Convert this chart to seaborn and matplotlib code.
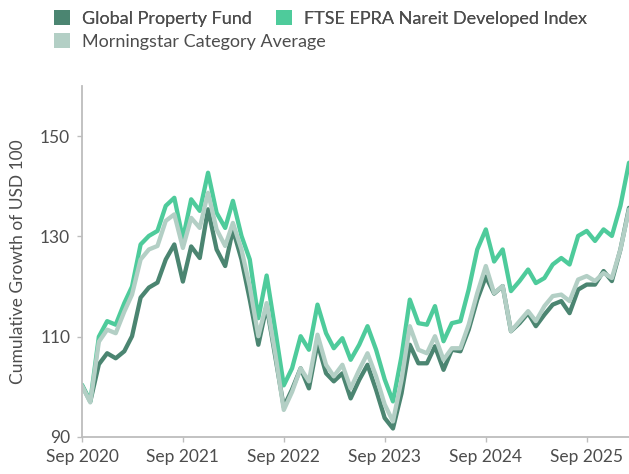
import numpy as np
import pandas as pd
import matplotlib
matplotlib.use("Agg")
import matplotlib.pyplot as plt
from matplotlib.patches import Patch
import seaborn as sns

# ---- data (monthly, Sep 2020 .. Feb 2026) ----
dates = pd.date_range("2020-09-01", "2026-02-01", freq="MS")

fund = [100.3, 97.1, 104.5, 106.7, 105.7, 107.1, 110.1, 117.8, 119.8, 120.8,
        125.4, 128.4, 121.0, 128.0, 125.7, 135.4, 127.4, 124.1, 131.4, 125.4,
        117.4, 108.4, 116.1, 106.1, 96.0, 99.5, 103.7, 99.7, 108.7, 102.7,
        101.1, 102.7, 97.7, 101.4, 104.4, 99.4, 93.8, 91.7, 98.7, 108.4,
        104.7, 104.7, 108.1, 103.4, 107.4, 107.1, 111.4, 117.4, 122.0, 118.6,
        120.1, 111.1, 112.7, 114.7, 112.1, 114.4, 116.4, 117.1, 114.7, 119.4,
        120.4, 120.4, 123.1, 121.1, 127.4, 135.7]

index = [100.4, 97.1, 110.0, 113.1, 112.4, 116.7, 120.0, 128.4, 130.1, 131.1,
         136.1, 137.7, 129.5, 137.4, 135.1, 142.7, 134.7, 131.7, 137.1, 130.1,
         125.4, 113.7, 122.2, 111.4, 100.3, 103.7, 110.1, 107.4, 116.4, 110.7,
         107.7, 109.7, 105.4, 108.4, 112.1, 107.4, 101.5, 97.1, 106.1, 117.4,
         112.7, 112.4, 116.1, 109.1, 112.7, 113.1, 119.4, 127.4, 131.4, 125.0,
         127.4, 119.1, 121.1, 123.4, 120.7, 121.7, 124.4, 125.7, 124.4, 130.1,
         131.1, 129.1, 131.4, 130.1, 136.1, 144.7]

category = [100.2, 96.9, 109.0, 111.4, 110.7, 115.0, 118.4, 125.4, 127.4, 128.1,
            133.1, 134.4, 127.7, 133.7, 131.7, 138.7, 131.4, 128.1, 132.7, 127.4,
            120.0, 110.1, 116.7, 106.7, 95.4, 99.0, 103.7, 101.1, 110.4, 104.4,
            102.1, 104.4, 99.7, 103.4, 106.7, 102.1, 96.5, 93.1, 101.4, 112.1,
            107.4, 106.7, 110.1, 105.4, 107.7, 107.7, 112.4, 118.7, 124.1, 118.7,
            120.1, 111.1, 113.1, 115.1, 113.1, 116.1, 118.1, 118.4, 117.1, 121.4,
            122.1, 121.1, 122.7, 121.7, 127.4, 135.4]

series_names = ["Global Property Fund", "FTSE EPRA Nareit Developed Index",
                "Morningstar Category Average"]
colors = ["#4b8571", "#4ecb9b", "#b3cfc5"]
y_ticks = [90, 110, 130, 150]
x_tick_dates = pd.date_range("2020-09-01", "2025-09-01", freq="12MS")
x_tick_labels = [d.strftime("%b %Y") for d in x_tick_dates]

df = pd.DataFrame({
    "date": np.tile(dates, 3),
    "value": fund + index + category,
    "series": np.repeat(series_names, len(dates)),
})

sns.set_theme(style="white")
plt.rcParams["font.family"] = ["Lato", "DejaVu Sans"]
text_color = "#4d4d4d"

fig = plt.figure(figsize=(6.29, 4.74), dpi=100)
ax = fig.add_axes([82 / 629, 37 / 474, 1 - 82 / 629, (437 - 86) / 474])

sns.lineplot(data=df, x="date", y="value", hue="series", hue_order=series_names,
             palette=colors, linewidth=3.1, ax=ax, legend=False,
             solid_capstyle="round", solid_joinstyle="round")

ax.set_xlim(dates[0], dates[-1])
ax.set_ylim(90, 160)
ax.set_yticks(y_ticks)
ax.set_xticks(x_tick_dates)
ax.set_xticklabels(x_tick_labels)
ax.set_xlabel("")
ax.set_ylabel("Cumulative Growth of USD 100", fontsize=12.5, color=text_color,
              labelpad=10)

for s in ["top", "right"]:
    ax.spines[s].set_visible(False)
for s in ["left", "bottom"]:
    ax.spines[s].set_color("#bdbdbd")
    ax.spines[s].set_linewidth(1.3)
ax.tick_params(axis="both", which="both", length=3.5, width=1.0, color="#bdbdbd",
               labelsize=12.5, labelcolor=text_color, pad=5)
ax.tick_params(axis="x", bottom=True)
ax.tick_params(axis="y", left=True)

handles = [Patch(facecolor=c, edgecolor="none") for c in colors]
leg_kw = dict(loc="upper left", frameon=False, handlelength=0.9, handleheight=0.9,
              handletextpad=0.65, columnspacing=1.35, borderaxespad=0, borderpad=0,
              prop={"size": 13}, labelcolor=text_color)
leg1 = fig.legend(handles[:2], series_names[:2], ncol=2,
                  bbox_to_anchor=(54 / 629, 1 - 10 / 474), **leg_kw)
leg2 = fig.legend(handles[2:], series_names[2:], ncol=1,
                  bbox_to_anchor=(54 / 629, 1 - 33 / 474), **leg_kw)
fig.add_artist(leg1)

fig.savefig("out.png", dpi=100, facecolor="white")
